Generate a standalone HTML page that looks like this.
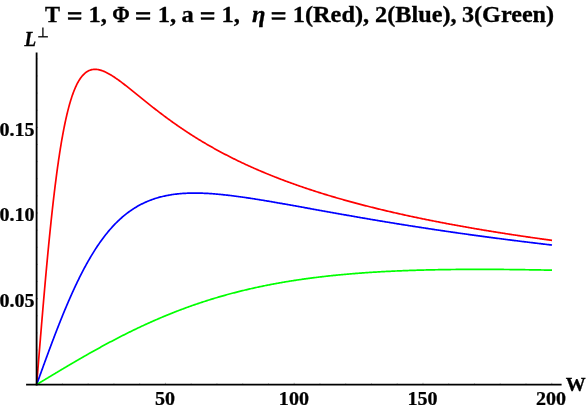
<!DOCTYPE html>
<html><head><meta charset="utf-8">
<style>
html,body{margin:0;padding:0;background:#fff;}
body{width:586px;height:409px;overflow:hidden;position:relative;font-family:"Liberation Serif",serif;}
svg{position:absolute;left:0;top:0;display:block;will-change:transform;}
text{font-family:"Liberation Serif",serif;font-weight:bold;fill:#000;}
</style></head><body>
<svg width="586" height="409" viewBox="0 0 586 409">
<rect width="586" height="409" fill="#fff"/>
<g fill="none" stroke-width="1.7" stroke-linejoin="round" stroke-linecap="butt">
<path stroke="#ff0000" d="M36.65,384.55 L36.91,381.37 L37.17,378.19 L37.42,375.02 L37.68,371.84 L37.94,368.67 L38.20,365.50 L38.45,362.33 L38.71,359.17 L38.97,356.01 L39.23,352.86 L39.48,349.71 L39.74,346.57 L40.00,343.44 L40.26,340.31 L40.51,337.19 L40.77,334.08 L41.03,330.98 L41.29,327.88 L41.54,324.80 L41.80,321.72 L42.06,318.66 L42.32,315.61 L42.57,312.57 L42.83,309.54 L43.09,306.52 L43.35,303.52 L43.60,300.53 L43.86,297.56 L44.12,294.60 L44.38,291.65 L44.63,288.72 L44.89,285.81 L45.15,282.91 L45.41,280.02 L45.66,277.16 L45.92,274.31 L46.18,271.48 L46.44,268.67 L46.69,265.87 L46.95,263.09 L47.21,260.34 L47.47,257.60 L47.72,254.88 L47.98,252.18 L48.24,249.50 L48.50,246.84 L48.75,244.20 L49.01,241.58 L49.27,238.98 L49.53,236.40 L49.79,233.85 L50.04,231.31 L50.30,228.80 L50.56,226.31 L50.82,223.84 L51.07,221.40 L51.33,218.97 L51.59,216.57 L51.85,214.19 L52.10,211.84 L52.36,209.50 L52.62,207.19 L52.88,204.91 L53.13,202.64 L53.39,200.40 L53.65,198.18 L53.91,195.99 L54.16,193.82 L54.42,191.67 L54.68,189.55 L54.94,187.45 L55.19,185.37 L55.45,183.31 L55.71,181.28 L55.97,179.28 L56.22,177.29 L56.48,175.33 L56.74,173.40 L57.00,171.48 L57.25,169.59 L57.51,167.72 L57.77,165.88 L58.03,164.06 L58.28,162.26 L58.54,160.49 L58.80,158.73 L59.06,157.01 L59.31,155.30 L59.57,153.61 L59.83,151.95 L60.09,150.31 L60.34,148.70 L60.60,147.10 L60.86,145.53 L61.12,143.98 L61.37,142.45 L61.63,140.94 L61.89,139.45 L62.15,137.99 L62.41,136.54 L62.66,135.12 L62.92,133.72 L63.18,132.34 L63.44,130.98 L63.69,129.64 L63.95,128.32 L64.21,127.02 L64.47,125.74 L64.72,124.48 L64.98,123.24 L65.24,122.02 L65.50,120.82 L65.75,119.64 L66.01,118.48 L66.27,117.33 L66.53,116.21 L66.78,115.10 L67.04,114.01 L67.30,112.94 L67.56,111.89 L67.81,110.85 L68.07,109.84 L68.33,108.84 L68.59,107.86 L68.84,106.89 L69.10,105.94 L69.36,105.01 L69.62,104.09 L69.87,103.20 L70.13,102.31 L70.39,101.45 L70.65,100.60 L70.90,99.76 L71.16,98.94 L71.42,98.14 L71.68,97.35 L71.93,96.57 L72.19,95.81 L72.45,95.07 L72.71,94.34 L72.96,93.62 L73.22,92.92 L73.48,92.23 L73.74,91.55 L73.99,90.89 L74.25,90.25 L74.51,89.61 L74.77,88.99 L75.02,88.38 L75.28,87.79 L75.54,87.20 L75.80,86.63 L76.06,86.07 L76.31,85.53 L76.57,84.99 L76.83,84.47 L77.09,83.96 L77.34,83.46 L77.60,82.97 L77.86,82.49 L78.12,82.03 L78.37,81.57 L78.63,81.13 L78.89,80.69 L79.15,80.27 L79.40,79.86 L79.66,79.45 L79.92,79.06 L80.18,78.68 L80.43,78.30 L80.69,77.94 L80.95,77.59 L81.21,77.24 L81.46,76.91 L81.72,76.58 L81.98,76.26 L82.24,75.95 L82.49,75.65 L82.75,75.36 L83.01,75.08 L83.27,74.80 L83.52,74.54 L83.78,74.28 L84.04,74.03 L84.30,73.79 L84.55,73.55 L84.81,73.32 L85.07,73.10 L85.33,72.89 L85.58,72.69 L85.84,72.49 L86.10,72.30 L86.36,72.11 L86.61,71.94 L86.87,71.77 L87.13,71.60 L87.39,71.45 L87.64,71.30 L87.90,71.15 L88.16,71.02 L89.09,70.57 L90.02,70.20 L90.95,69.90 L91.88,69.67 L92.81,69.51 L93.73,69.40 L94.66,69.35 L95.59,69.36 L96.52,69.42 L97.45,69.52 L98.38,69.67 L99.31,69.87 L100.24,70.10 L101.17,70.37 L102.10,70.68 L103.02,71.02 L103.95,71.39 L104.88,71.79 L105.81,72.22 L106.74,72.68 L107.67,73.16 L108.60,73.66 L109.53,74.18 L110.46,74.72 L111.39,75.28 L112.31,75.86 L113.24,76.46 L114.17,77.07 L115.10,77.69 L116.03,78.33 L116.96,78.98 L117.89,79.64 L118.82,80.31 L119.75,80.99 L120.68,81.68 L121.61,82.37 L122.53,83.07 L123.46,83.79 L124.39,84.50 L125.32,85.22 L126.25,85.95 L127.18,86.68 L128.11,87.42 L129.04,88.15 L129.97,88.90 L130.90,89.64 L131.82,90.39 L132.75,91.14 L133.68,91.89 L134.61,92.64 L135.54,93.39 L136.47,94.14 L137.40,94.89 L138.33,95.65 L139.26,96.40 L140.19,97.15 L141.12,97.91 L142.04,98.66 L142.97,99.41 L143.90,100.16 L144.83,100.90 L145.76,101.65 L146.69,102.39 L147.62,103.14 L148.55,103.88 L149.48,104.62 L150.41,105.35 L151.33,106.09 L152.26,106.82 L153.19,107.55 L154.12,108.28 L155.05,109.00 L155.98,109.72 L156.91,110.44 L157.84,111.16 L158.77,111.87 L159.70,112.58 L160.62,113.29 L161.55,113.99 L162.48,114.69 L163.41,115.39 L164.34,116.08 L165.27,116.78 L166.20,117.46 L167.13,118.15 L168.06,118.83 L168.99,119.51 L169.92,120.18 L170.84,120.86 L171.77,121.52 L172.70,122.19 L173.63,122.85 L174.56,123.51 L175.49,124.16 L176.42,124.81 L177.35,125.46 L178.28,126.10 L179.21,126.75 L180.13,127.38 L181.06,128.02 L181.99,128.65 L182.92,129.27 L183.85,129.90 L184.78,130.52 L185.71,131.13 L186.64,131.75 L187.57,132.36 L188.50,132.96 L189.43,133.57 L190.35,134.17 L191.28,134.76 L192.21,135.36 L193.14,135.95 L194.07,136.53 L195.00,137.12 L195.93,137.70 L196.86,138.27 L197.79,138.85 L198.72,139.42 L199.64,139.99 L200.57,140.55 L201.50,141.11 L202.43,141.67 L203.36,142.22 L204.29,142.77 L205.22,143.32 L206.15,143.87 L207.08,144.41 L208.01,144.95 L208.93,145.48 L209.86,146.02 L210.79,146.55 L211.72,147.07 L212.65,147.60 L213.58,148.12 L214.51,148.64 L215.44,149.15 L216.37,149.66 L217.30,150.17 L218.23,150.68 L219.15,151.18 L220.08,151.68 L221.01,152.18 L221.94,152.68 L222.87,153.17 L223.80,153.66 L224.73,154.15 L225.66,154.63 L226.59,155.11 L227.52,155.59 L228.44,156.07 L229.37,156.54 L230.30,157.01 L231.23,157.48 L232.16,157.95 L233.09,158.41 L234.02,158.87 L234.95,159.33 L235.88,159.79 L236.81,160.24 L237.74,160.69 L238.66,161.14 L239.59,161.59 L240.52,162.03 L241.45,162.47 L242.38,162.91 L243.31,163.35 L244.24,163.78 L245.17,164.22 L246.10,164.65 L247.03,165.07 L247.95,165.50 L248.88,165.92 L249.81,166.34 L250.74,166.76 L251.67,167.18 L252.60,167.59 L253.53,168.00 L254.46,168.41 L255.39,168.82 L256.32,169.23 L257.24,169.63 L258.17,170.03 L259.10,170.43 L260.03,170.83 L260.96,171.22 L261.89,171.62 L262.82,172.01 L263.75,172.40 L264.68,172.79 L265.61,173.17 L266.54,173.56 L267.46,173.94 L268.39,174.32 L269.32,174.69 L270.25,175.07 L271.18,175.44 L272.11,175.82 L273.04,176.19 L273.97,176.56 L274.90,176.92 L275.83,177.29 L276.75,177.65 L277.68,178.01 L278.61,178.37 L279.54,178.73 L280.47,179.08 L281.40,179.44 L282.33,179.79 L283.26,180.14 L284.19,180.49 L285.12,180.84 L286.05,181.18 L286.97,181.53 L287.90,181.87 L288.83,182.21 L289.76,182.55 L290.69,182.89 L291.62,183.23 L292.55,183.56 L293.48,183.89 L294.41,184.22 L295.34,184.55 L296.26,184.88 L297.19,185.21 L298.12,185.53 L299.05,185.86 L299.98,186.18 L300.91,186.50 L301.84,186.82 L302.77,187.14 L303.70,187.45 L304.63,187.77 L305.55,188.08 L306.48,188.39 L307.41,188.71 L308.34,189.01 L309.27,189.32 L310.20,189.63 L311.13,189.93 L312.06,190.24 L312.99,190.54 L313.92,190.84 L314.85,191.14 L315.77,191.44 L316.70,191.74 L317.63,192.03 L318.56,192.33 L319.49,192.62 L320.42,192.91 L321.35,193.20 L322.28,193.49 L323.21,193.78 L324.14,194.07 L325.06,194.35 L325.99,194.64 L326.92,194.92 L327.85,195.20 L328.78,195.48 L329.71,195.76 L330.64,196.04 L331.57,196.32 L332.50,196.59 L333.43,196.87 L334.36,197.14 L335.28,197.41 L336.21,197.69 L337.14,197.96 L338.07,198.22 L339.00,198.49 L339.93,198.76 L340.86,199.03 L341.79,199.29 L342.72,199.55 L343.65,199.82 L344.57,200.08 L345.50,200.34 L346.43,200.60 L347.36,200.86 L348.29,201.11 L349.22,201.37 L350.15,201.62 L351.08,201.88 L352.01,202.13 L352.94,202.38 L353.86,202.63 L354.79,202.88 L355.72,203.13 L356.65,203.38 L357.58,203.63 L358.51,203.87 L359.44,204.12 L360.37,204.36 L361.30,204.61 L362.23,204.85 L363.16,205.09 L364.08,205.33 L365.01,205.57 L365.94,205.81 L366.87,206.05 L367.80,206.28 L368.73,206.52 L369.66,206.75 L370.59,206.99 L371.52,207.22 L372.45,207.45 L373.37,207.68 L374.30,207.91 L375.23,208.14 L376.16,208.37 L377.09,208.60 L378.02,208.83 L378.95,209.05 L379.88,209.28 L380.81,209.50 L381.74,209.72 L382.67,209.95 L383.59,210.17 L384.52,210.39 L385.45,210.61 L386.38,210.83 L387.31,211.05 L388.24,211.27 L389.17,211.48 L390.10,211.70 L391.03,211.91 L391.96,212.13 L392.88,212.34 L393.81,212.56 L394.74,212.77 L395.67,212.98 L396.60,213.19 L397.53,213.40 L398.46,213.61 L399.39,213.82 L400.32,214.03 L401.25,214.23 L402.17,214.44 L403.10,214.65 L404.03,214.85 L404.96,215.05 L405.89,215.26 L406.82,215.46 L407.75,215.66 L408.68,215.86 L409.61,216.06 L410.54,216.26 L411.47,216.46 L412.39,216.66 L413.32,216.86 L414.25,217.06 L415.18,217.25 L416.11,217.45 L417.04,217.64 L417.97,217.84 L418.90,218.03 L419.83,218.22 L420.76,218.42 L421.68,218.61 L422.61,218.80 L423.54,218.99 L424.47,219.18 L425.40,219.37 L426.33,219.56 L427.26,219.75 L428.19,219.93 L429.12,220.12 L430.05,220.30 L430.98,220.49 L431.90,220.68 L432.83,220.86 L433.76,221.04 L434.69,221.23 L435.62,221.41 L436.55,221.59 L437.48,221.77 L438.41,221.95 L439.34,222.13 L440.27,222.31 L441.19,222.49 L442.12,222.67 L443.05,222.85 L443.98,223.02 L444.91,223.20 L445.84,223.37 L446.77,223.55 L447.70,223.72 L448.63,223.90 L449.56,224.07 L450.48,224.25 L451.41,224.42 L452.34,224.59 L453.27,224.76 L454.20,224.93 L455.13,225.10 L456.06,225.27 L456.99,225.44 L457.92,225.61 L458.85,225.78 L459.78,225.95 L460.70,226.11 L461.63,226.28 L462.56,226.45 L463.49,226.61 L464.42,226.78 L465.35,226.94 L466.28,227.11 L467.21,227.27 L468.14,227.43 L469.07,227.60 L469.99,227.76 L470.92,227.92 L471.85,228.08 L472.78,228.24 L473.71,228.40 L474.64,228.56 L475.57,228.72 L476.50,228.88 L477.43,229.04 L478.36,229.20 L479.29,229.35 L480.21,229.51 L481.14,229.67 L482.07,229.82 L483.00,229.98 L483.93,230.13 L484.86,230.29 L485.79,230.44 L486.72,230.59 L487.65,230.75 L488.58,230.90 L489.50,231.05 L490.43,231.20 L491.36,231.35 L492.29,231.51 L493.22,231.66 L494.15,231.81 L495.08,231.96 L496.01,232.10 L496.94,232.25 L497.87,232.40 L498.79,232.55 L499.72,232.70 L500.65,232.84 L501.58,232.99 L502.51,233.14 L503.44,233.28 L504.37,233.43 L505.30,233.57 L506.23,233.72 L507.16,233.86 L508.09,234.01 L509.01,234.15 L509.94,234.29 L510.87,234.43 L511.80,234.58 L512.73,234.72 L513.66,234.86 L514.59,235.00 L515.52,235.14 L516.45,235.28 L517.38,235.42 L518.30,235.56 L519.23,235.70 L520.16,235.84 L521.09,235.97 L522.02,236.11 L522.95,236.25 L523.88,236.39 L524.81,236.52 L525.74,236.66 L526.67,236.80 L527.60,236.93 L528.52,237.07 L529.45,237.20 L530.38,237.34 L531.31,237.47 L532.24,237.60 L533.17,237.74 L534.10,237.87 L535.03,238.00 L535.96,238.13 L536.89,238.27 L537.81,238.40 L538.74,238.53 L539.67,238.66 L540.60,238.79 L541.53,238.92 L542.46,239.05 L543.39,239.18 L544.32,239.31 L545.25,239.44 L546.18,239.57 L547.10,239.69 L548.03,239.82 L548.96,239.95 L549.89,240.08 L550.82,240.20 L551.75,240.33 L552.00,240.36"/>
<path stroke="#0000ff" d="M36.65,384.55 L36.91,383.84 L37.17,383.12 L37.42,382.41 L37.68,381.70 L37.94,380.98 L38.20,380.27 L38.45,379.56 L38.71,378.84 L38.97,378.13 L39.23,377.42 L39.48,376.70 L39.74,375.99 L40.00,375.28 L40.26,374.57 L40.51,373.86 L40.77,373.14 L41.03,372.43 L41.29,371.72 L41.54,371.01 L41.80,370.30 L42.06,369.59 L42.32,368.88 L42.57,368.17 L42.83,367.46 L43.09,366.76 L43.35,366.05 L43.60,365.34 L43.86,364.63 L44.12,363.93 L44.38,363.22 L44.63,362.51 L44.89,361.81 L45.15,361.11 L45.41,360.40 L45.66,359.70 L45.92,358.99 L46.18,358.29 L46.44,357.59 L46.69,356.89 L46.95,356.19 L47.21,355.49 L47.47,354.79 L47.72,354.09 L47.98,353.40 L48.24,352.70 L48.50,352.00 L48.75,351.31 L49.01,350.61 L49.27,349.92 L49.53,349.23 L49.79,348.53 L50.04,347.84 L50.30,347.15 L50.56,346.46 L50.82,345.77 L51.07,345.09 L51.33,344.40 L51.59,343.71 L51.85,343.03 L52.10,342.35 L52.36,341.66 L52.62,340.98 L52.88,340.30 L53.13,339.62 L53.39,338.94 L53.65,338.26 L53.91,337.59 L54.16,336.91 L54.42,336.24 L54.68,335.56 L54.94,334.89 L55.19,334.22 L55.45,333.55 L55.71,332.88 L55.97,332.21 L56.22,331.55 L56.48,330.88 L56.74,330.22 L57.00,329.55 L57.25,328.89 L57.51,328.23 L57.77,327.57 L58.03,326.91 L58.28,326.26 L58.54,325.60 L58.80,324.95 L59.06,324.30 L59.31,323.64 L59.57,322.99 L59.83,322.35 L60.09,321.70 L60.34,321.05 L60.60,320.41 L60.86,319.76 L61.12,319.12 L61.37,318.48 L61.63,317.84 L61.89,317.21 L62.15,316.57 L62.41,315.94 L62.66,315.30 L62.92,314.67 L63.18,314.04 L63.44,313.41 L63.69,312.79 L63.95,312.16 L64.21,311.54 L64.47,310.91 L64.72,310.29 L64.98,309.67 L65.24,309.06 L65.50,308.44 L65.75,307.82 L66.01,307.21 L66.27,306.60 L66.53,305.99 L66.78,305.38 L67.04,304.78 L67.30,304.17 L67.56,303.57 L67.81,302.97 L68.07,302.37 L68.33,301.77 L68.59,301.17 L68.84,300.58 L69.10,299.98 L69.36,299.39 L69.62,298.80 L69.87,298.22 L70.13,297.63 L70.39,297.05 L70.65,296.46 L70.90,295.88 L71.16,295.30 L71.42,294.73 L71.68,294.15 L71.93,293.58 L72.19,293.00 L72.45,292.43 L72.71,291.86 L72.96,291.30 L73.22,290.73 L73.48,290.17 L73.74,289.61 L73.99,289.05 L74.25,288.49 L74.51,287.94 L74.77,287.38 L75.02,286.83 L75.28,286.28 L75.54,285.73 L75.80,285.18 L76.06,284.64 L76.31,284.10 L76.57,283.56 L76.83,283.02 L77.09,282.48 L77.34,281.94 L77.60,281.41 L77.86,280.88 L78.12,280.35 L78.37,279.82 L78.63,279.30 L78.89,278.77 L79.15,278.25 L79.40,277.73 L79.66,277.21 L79.92,276.69 L80.18,276.18 L80.43,275.67 L80.69,275.16 L80.95,274.65 L81.21,274.14 L81.46,273.64 L81.72,273.13 L81.98,272.63 L82.24,272.13 L82.49,271.64 L82.75,271.14 L83.01,270.65 L83.27,270.16 L83.52,269.67 L83.78,269.18 L84.04,268.69 L84.30,268.21 L84.55,267.73 L84.81,267.25 L85.07,266.77 L85.33,266.29 L85.58,265.82 L85.84,265.35 L86.10,264.88 L86.36,264.41 L86.61,263.94 L86.87,263.48 L87.13,263.02 L87.39,262.56 L87.64,262.10 L87.90,261.64 L88.16,261.19 L89.09,259.56 L90.02,257.97 L90.95,256.39 L91.88,254.85 L92.81,253.32 L93.73,251.83 L94.66,250.35 L95.59,248.90 L96.52,247.48 L97.45,246.08 L98.38,244.71 L99.31,243.36 L100.24,242.03 L101.17,240.73 L102.10,239.45 L103.02,238.20 L103.95,236.97 L104.88,235.76 L105.81,234.58 L106.74,233.42 L107.67,232.28 L108.60,231.16 L109.53,230.07 L110.46,228.99 L111.39,227.94 L112.31,226.91 L113.24,225.91 L114.17,224.92 L115.10,223.95 L116.03,223.01 L116.96,222.08 L117.89,221.18 L118.82,220.29 L119.75,219.43 L120.68,218.58 L121.61,217.75 L122.53,216.95 L123.46,216.16 L124.39,215.38 L125.32,214.63 L126.25,213.90 L127.18,213.18 L128.11,212.48 L129.04,211.79 L129.97,211.13 L130.90,210.47 L131.82,209.84 L132.75,209.22 L133.68,208.62 L134.61,208.03 L135.54,207.46 L136.47,206.90 L137.40,206.36 L138.33,205.83 L139.26,205.32 L140.19,204.82 L141.12,204.34 L142.04,203.86 L142.97,203.41 L143.90,202.96 L144.83,202.53 L145.76,202.11 L146.69,201.70 L147.62,201.31 L148.55,200.92 L149.48,200.55 L150.41,200.19 L151.33,199.84 L152.26,199.51 L153.19,199.18 L154.12,198.87 L155.05,198.56 L155.98,198.27 L156.91,197.98 L157.84,197.71 L158.77,197.44 L159.70,197.19 L160.62,196.94 L161.55,196.71 L162.48,196.48 L163.41,196.26 L164.34,196.05 L165.27,195.85 L166.20,195.66 L167.13,195.47 L168.06,195.30 L168.99,195.13 L169.92,194.97 L170.84,194.82 L171.77,194.67 L172.70,194.53 L173.63,194.40 L174.56,194.28 L175.49,194.16 L176.42,194.05 L177.35,193.95 L178.28,193.85 L179.21,193.76 L180.13,193.68 L181.06,193.60 L181.99,193.52 L182.92,193.46 L183.85,193.40 L184.78,193.34 L185.71,193.29 L186.64,193.25 L187.57,193.21 L188.50,193.17 L189.43,193.14 L190.35,193.12 L191.28,193.10 L192.21,193.09 L193.14,193.08 L194.07,193.07 L195.00,193.07 L195.93,193.07 L196.86,193.08 L197.79,193.09 L198.72,193.11 L199.64,193.13 L200.57,193.15 L201.50,193.18 L202.43,193.21 L203.36,193.24 L204.29,193.28 L205.22,193.32 L206.15,193.37 L207.08,193.42 L208.01,193.47 L208.93,193.52 L209.86,193.58 L210.79,193.64 L211.72,193.71 L212.65,193.77 L213.58,193.84 L214.51,193.92 L215.44,193.99 L216.37,194.07 L217.30,194.15 L218.23,194.23 L219.15,194.32 L220.08,194.41 L221.01,194.50 L221.94,194.59 L222.87,194.69 L223.80,194.78 L224.73,194.88 L225.66,194.98 L226.59,195.09 L227.52,195.19 L228.44,195.30 L229.37,195.41 L230.30,195.52 L231.23,195.63 L232.16,195.75 L233.09,195.86 L234.02,195.98 L234.95,196.10 L235.88,196.22 L236.81,196.35 L237.74,196.47 L238.66,196.60 L239.59,196.72 L240.52,196.85 L241.45,196.98 L242.38,197.11 L243.31,197.25 L244.24,197.38 L245.17,197.52 L246.10,197.65 L247.03,197.79 L247.95,197.93 L248.88,198.07 L249.81,198.21 L250.74,198.35 L251.67,198.49 L252.60,198.64 L253.53,198.78 L254.46,198.93 L255.39,199.08 L256.32,199.22 L257.24,199.37 L258.17,199.52 L259.10,199.67 L260.03,199.82 L260.96,199.97 L261.89,200.13 L262.82,200.28 L263.75,200.43 L264.68,200.59 L265.61,200.74 L266.54,200.90 L267.46,201.06 L268.39,201.21 L269.32,201.37 L270.25,201.53 L271.18,201.69 L272.11,201.85 L273.04,202.01 L273.97,202.17 L274.90,202.33 L275.83,202.49 L276.75,202.65 L277.68,202.81 L278.61,202.97 L279.54,203.14 L280.47,203.30 L281.40,203.46 L282.33,203.63 L283.26,203.79 L284.19,203.95 L285.12,204.12 L286.05,204.28 L286.97,204.45 L287.90,204.61 L288.83,204.78 L289.76,204.95 L290.69,205.11 L291.62,205.28 L292.55,205.44 L293.48,205.61 L294.41,205.78 L295.34,205.94 L296.26,206.11 L297.19,206.28 L298.12,206.45 L299.05,206.61 L299.98,206.78 L300.91,206.95 L301.84,207.12 L302.77,207.28 L303.70,207.45 L304.63,207.62 L305.55,207.79 L306.48,207.96 L307.41,208.12 L308.34,208.29 L309.27,208.46 L310.20,208.63 L311.13,208.80 L312.06,208.97 L312.99,209.13 L313.92,209.30 L314.85,209.47 L315.77,209.64 L316.70,209.81 L317.63,209.97 L318.56,210.14 L319.49,210.31 L320.42,210.48 L321.35,210.64 L322.28,210.81 L323.21,210.98 L324.14,211.15 L325.06,211.31 L325.99,211.48 L326.92,211.65 L327.85,211.82 L328.78,211.98 L329.71,212.15 L330.64,212.32 L331.57,212.48 L332.50,212.65 L333.43,212.82 L334.36,212.98 L335.28,213.15 L336.21,213.31 L337.14,213.48 L338.07,213.65 L339.00,213.81 L339.93,213.98 L340.86,214.14 L341.79,214.31 L342.72,214.47 L343.65,214.64 L344.57,214.80 L345.50,214.96 L346.43,215.13 L347.36,215.29 L348.29,215.46 L349.22,215.62 L350.15,215.78 L351.08,215.94 L352.01,216.11 L352.94,216.27 L353.86,216.43 L354.79,216.59 L355.72,216.76 L356.65,216.92 L357.58,217.08 L358.51,217.24 L359.44,217.40 L360.37,217.56 L361.30,217.72 L362.23,217.88 L363.16,218.04 L364.08,218.20 L365.01,218.36 L365.94,218.52 L366.87,218.68 L367.80,218.84 L368.73,219.00 L369.66,219.16 L370.59,219.32 L371.52,219.47 L372.45,219.63 L373.37,219.79 L374.30,219.95 L375.23,220.10 L376.16,220.26 L377.09,220.42 L378.02,220.57 L378.95,220.73 L379.88,220.88 L380.81,221.04 L381.74,221.19 L382.67,221.35 L383.59,221.50 L384.52,221.66 L385.45,221.81 L386.38,221.97 L387.31,222.12 L388.24,222.27 L389.17,222.43 L390.10,222.58 L391.03,222.73 L391.96,222.88 L392.88,223.03 L393.81,223.19 L394.74,223.34 L395.67,223.49 L396.60,223.64 L397.53,223.79 L398.46,223.94 L399.39,224.09 L400.32,224.24 L401.25,224.39 L402.17,224.54 L403.10,224.69 L404.03,224.84 L404.96,224.98 L405.89,225.13 L406.82,225.28 L407.75,225.43 L408.68,225.57 L409.61,225.72 L410.54,225.87 L411.47,226.01 L412.39,226.16 L413.32,226.31 L414.25,226.45 L415.18,226.60 L416.11,226.74 L417.04,226.89 L417.97,227.03 L418.90,227.17 L419.83,227.32 L420.76,227.46 L421.68,227.60 L422.61,227.75 L423.54,227.89 L424.47,228.03 L425.40,228.17 L426.33,228.32 L427.26,228.46 L428.19,228.60 L429.12,228.74 L430.05,228.88 L430.98,229.02 L431.90,229.16 L432.83,229.30 L433.76,229.44 L434.69,229.58 L435.62,229.72 L436.55,229.86 L437.48,230.00 L438.41,230.13 L439.34,230.27 L440.27,230.41 L441.19,230.55 L442.12,230.68 L443.05,230.82 L443.98,230.96 L444.91,231.09 L445.84,231.23 L446.77,231.36 L447.70,231.50 L448.63,231.63 L449.56,231.77 L450.48,231.90 L451.41,232.04 L452.34,232.17 L453.27,232.31 L454.20,232.44 L455.13,232.57 L456.06,232.71 L456.99,232.84 L457.92,232.97 L458.85,233.10 L459.78,233.23 L460.70,233.37 L461.63,233.50 L462.56,233.63 L463.49,233.76 L464.42,233.89 L465.35,234.02 L466.28,234.15 L467.21,234.28 L468.14,234.41 L469.07,234.54 L469.99,234.67 L470.92,234.79 L471.85,234.92 L472.78,235.05 L473.71,235.18 L474.64,235.31 L475.57,235.43 L476.50,235.56 L477.43,235.69 L478.36,235.81 L479.29,235.94 L480.21,236.06 L481.14,236.19 L482.07,236.32 L483.00,236.44 L483.93,236.57 L484.86,236.69 L485.79,236.81 L486.72,236.94 L487.65,237.06 L488.58,237.19 L489.50,237.31 L490.43,237.43 L491.36,237.55 L492.29,237.68 L493.22,237.80 L494.15,237.92 L495.08,238.04 L496.01,238.16 L496.94,238.29 L497.87,238.41 L498.79,238.53 L499.72,238.65 L500.65,238.77 L501.58,238.89 L502.51,239.01 L503.44,239.13 L504.37,239.25 L505.30,239.37 L506.23,239.48 L507.16,239.60 L508.09,239.72 L509.01,239.84 L509.94,239.96 L510.87,240.07 L511.80,240.19 L512.73,240.31 L513.66,240.43 L514.59,240.54 L515.52,240.66 L516.45,240.77 L517.38,240.89 L518.30,241.01 L519.23,241.12 L520.16,241.24 L521.09,241.35 L522.02,241.47 L522.95,241.58 L523.88,241.69 L524.81,241.81 L525.74,241.92 L526.67,242.03 L527.60,242.15 L528.52,242.26 L529.45,242.37 L530.38,242.49 L531.31,242.60 L532.24,242.71 L533.17,242.82 L534.10,242.93 L535.03,243.04 L535.96,243.16 L536.89,243.27 L537.81,243.38 L538.74,243.49 L539.67,243.60 L540.60,243.71 L541.53,243.82 L542.46,243.93 L543.39,244.04 L544.32,244.15 L545.25,244.25 L546.18,244.36 L547.10,244.47 L548.03,244.58 L548.96,244.69 L549.89,244.80 L550.82,244.90 L551.75,245.01 L552.00,245.04"/>
<path stroke="#00ff00" d="M36.65,384.55 L36.91,384.39 L37.17,384.24 L37.42,384.08 L37.68,383.93 L37.94,383.77 L38.20,383.62 L38.45,383.46 L38.71,383.31 L38.97,383.15 L39.23,383.00 L39.48,382.84 L39.74,382.69 L40.00,382.53 L40.26,382.37 L40.51,382.22 L40.77,382.06 L41.03,381.91 L41.29,381.75 L41.54,381.60 L41.80,381.44 L42.06,381.29 L42.32,381.13 L42.57,380.98 L42.83,380.82 L43.09,380.67 L43.35,380.51 L43.60,380.36 L43.86,380.20 L44.12,380.05 L44.38,379.89 L44.63,379.73 L44.89,379.58 L45.15,379.42 L45.41,379.27 L45.66,379.11 L45.92,378.96 L46.18,378.80 L46.44,378.65 L46.69,378.49 L46.95,378.34 L47.21,378.18 L47.47,378.03 L47.72,377.87 L47.98,377.72 L48.24,377.56 L48.50,377.41 L48.75,377.25 L49.01,377.10 L49.27,376.94 L49.53,376.79 L49.79,376.64 L50.04,376.48 L50.30,376.33 L50.56,376.17 L50.82,376.02 L51.07,375.86 L51.33,375.71 L51.59,375.55 L51.85,375.40 L52.10,375.24 L52.36,375.09 L52.62,374.93 L52.88,374.78 L53.13,374.63 L53.39,374.47 L53.65,374.32 L53.91,374.16 L54.16,374.01 L54.42,373.85 L54.68,373.70 L54.94,373.55 L55.19,373.39 L55.45,373.24 L55.71,373.08 L55.97,372.93 L56.22,372.78 L56.48,372.62 L56.74,372.47 L57.00,372.31 L57.25,372.16 L57.51,372.01 L57.77,371.85 L58.03,371.70 L58.28,371.54 L58.54,371.39 L58.80,371.24 L59.06,371.08 L59.31,370.93 L59.57,370.78 L59.83,370.62 L60.09,370.47 L60.34,370.32 L60.60,370.16 L60.86,370.01 L61.12,369.86 L61.37,369.70 L61.63,369.55 L61.89,369.40 L62.15,369.24 L62.41,369.09 L62.66,368.94 L62.92,368.79 L63.18,368.63 L63.44,368.48 L63.69,368.33 L63.95,368.17 L64.21,368.02 L64.47,367.87 L64.72,367.72 L64.98,367.56 L65.24,367.41 L65.50,367.26 L65.75,367.11 L66.01,366.96 L66.27,366.80 L66.53,366.65 L66.78,366.50 L67.04,366.35 L67.30,366.20 L67.56,366.04 L67.81,365.89 L68.07,365.74 L68.33,365.59 L68.59,365.44 L68.84,365.28 L69.10,365.13 L69.36,364.98 L69.62,364.83 L69.87,364.68 L70.13,364.53 L70.39,364.38 L70.65,364.22 L70.90,364.07 L71.16,363.92 L71.42,363.77 L71.68,363.62 L71.93,363.47 L72.19,363.32 L72.45,363.17 L72.71,363.02 L72.96,362.87 L73.22,362.72 L73.48,362.57 L73.74,362.42 L73.99,362.27 L74.25,362.12 L74.51,361.97 L74.77,361.81 L75.02,361.66 L75.28,361.51 L75.54,361.36 L75.80,361.22 L76.06,361.07 L76.31,360.92 L76.57,360.77 L76.83,360.62 L77.09,360.47 L77.34,360.32 L77.60,360.17 L77.86,360.02 L78.12,359.87 L78.37,359.72 L78.63,359.57 L78.89,359.42 L79.15,359.27 L79.40,359.13 L79.66,358.98 L79.92,358.83 L80.18,358.68 L80.43,358.53 L80.69,358.38 L80.95,358.23 L81.21,358.09 L81.46,357.94 L81.72,357.79 L81.98,357.64 L82.24,357.49 L82.49,357.35 L82.75,357.20 L83.01,357.05 L83.27,356.90 L83.52,356.76 L83.78,356.61 L84.04,356.46 L84.30,356.31 L84.55,356.17 L84.81,356.02 L85.07,355.87 L85.33,355.73 L85.58,355.58 L85.84,355.43 L86.10,355.29 L86.36,355.14 L86.61,354.99 L86.87,354.85 L87.13,354.70 L87.39,354.55 L87.64,354.41 L87.90,354.26 L88.16,354.12 L89.09,353.59 L90.02,353.07 L90.95,352.54 L91.88,352.02 L92.81,351.50 L93.73,350.98 L94.66,350.46 L95.59,349.95 L96.52,349.43 L97.45,348.92 L98.38,348.40 L99.31,347.89 L100.24,347.38 L101.17,346.87 L102.10,346.37 L103.02,345.86 L103.95,345.36 L104.88,344.85 L105.81,344.35 L106.74,343.85 L107.67,343.36 L108.60,342.86 L109.53,342.36 L110.46,341.87 L111.39,341.38 L112.31,340.89 L113.24,340.40 L114.17,339.91 L115.10,339.43 L116.03,338.94 L116.96,338.46 L117.89,337.98 L118.82,337.50 L119.75,337.02 L120.68,336.55 L121.61,336.07 L122.53,335.60 L123.46,335.13 L124.39,334.66 L125.32,334.19 L126.25,333.73 L127.18,333.27 L128.11,332.80 L129.04,332.34 L129.97,331.89 L130.90,331.43 L131.82,330.98 L132.75,330.52 L133.68,330.07 L134.61,329.62 L135.54,329.18 L136.47,328.73 L137.40,328.29 L138.33,327.85 L139.26,327.41 L140.19,326.97 L141.12,326.53 L142.04,326.10 L142.97,325.66 L143.90,325.23 L144.83,324.81 L145.76,324.38 L146.69,323.96 L147.62,323.53 L148.55,323.11 L149.48,322.69 L150.41,322.28 L151.33,321.86 L152.26,321.45 L153.19,321.04 L154.12,320.63 L155.05,320.22 L155.98,319.82 L156.91,319.41 L157.84,319.01 L158.77,318.61 L159.70,318.22 L160.62,317.82 L161.55,317.43 L162.48,317.04 L163.41,316.65 L164.34,316.26 L165.27,315.87 L166.20,315.49 L167.13,315.11 L168.06,314.73 L168.99,314.35 L169.92,313.98 L170.84,313.60 L171.77,313.23 L172.70,312.86 L173.63,312.50 L174.56,312.13 L175.49,311.77 L176.42,311.41 L177.35,311.05 L178.28,310.69 L179.21,310.33 L180.13,309.98 L181.06,309.63 L181.99,309.28 L182.92,308.93 L183.85,308.59 L184.78,308.24 L185.71,307.90 L186.64,307.56 L187.57,307.23 L188.50,306.89 L189.43,306.56 L190.35,306.22 L191.28,305.90 L192.21,305.57 L193.14,305.24 L194.07,304.92 L195.00,304.60 L195.93,304.28 L196.86,303.96 L197.79,303.64 L198.72,303.33 L199.64,303.02 L200.57,302.71 L201.50,302.40 L202.43,302.09 L203.36,301.79 L204.29,301.49 L205.22,301.19 L206.15,300.89 L207.08,300.59 L208.01,300.30 L208.93,300.01 L209.86,299.71 L210.79,299.43 L211.72,299.14 L212.65,298.85 L213.58,298.57 L214.51,298.29 L215.44,298.01 L216.37,297.73 L217.30,297.46 L218.23,297.18 L219.15,296.91 L220.08,296.64 L221.01,296.37 L221.94,296.11 L222.87,295.84 L223.80,295.58 L224.73,295.32 L225.66,295.06 L226.59,294.80 L227.52,294.55 L228.44,294.29 L229.37,294.04 L230.30,293.79 L231.23,293.54 L232.16,293.29 L233.09,293.05 L234.02,292.81 L234.95,292.56 L235.88,292.33 L236.81,292.09 L237.74,291.85 L238.66,291.62 L239.59,291.38 L240.52,291.15 L241.45,290.92 L242.38,290.70 L243.31,290.47 L244.24,290.25 L245.17,290.02 L246.10,289.80 L247.03,289.58 L247.95,289.37 L248.88,289.15 L249.81,288.94 L250.74,288.72 L251.67,288.51 L252.60,288.30 L253.53,288.09 L254.46,287.89 L255.39,287.68 L256.32,287.48 L257.24,287.28 L258.17,287.08 L259.10,286.88 L260.03,286.69 L260.96,286.49 L261.89,286.30 L262.82,286.10 L263.75,285.91 L264.68,285.73 L265.61,285.54 L266.54,285.35 L267.46,285.17 L268.39,284.98 L269.32,284.80 L270.25,284.62 L271.18,284.44 L272.11,284.27 L273.04,284.09 L273.97,283.92 L274.90,283.75 L275.83,283.57 L276.75,283.40 L277.68,283.24 L278.61,283.07 L279.54,282.90 L280.47,282.74 L281.40,282.58 L282.33,282.42 L283.26,282.26 L284.19,282.10 L285.12,281.94 L286.05,281.78 L286.97,281.63 L287.90,281.48 L288.83,281.32 L289.76,281.17 L290.69,281.02 L291.62,280.88 L292.55,280.73 L293.48,280.59 L294.41,280.44 L295.34,280.30 L296.26,280.16 L297.19,280.02 L298.12,279.88 L299.05,279.74 L299.98,279.60 L300.91,279.47 L301.84,279.34 L302.77,279.20 L303.70,279.07 L304.63,278.94 L305.55,278.81 L306.48,278.68 L307.41,278.56 L308.34,278.43 L309.27,278.31 L310.20,278.19 L311.13,278.06 L312.06,277.94 L312.99,277.82 L313.92,277.70 L314.85,277.59 L315.77,277.47 L316.70,277.36 L317.63,277.24 L318.56,277.13 L319.49,277.02 L320.42,276.91 L321.35,276.80 L322.28,276.69 L323.21,276.58 L324.14,276.48 L325.06,276.37 L325.99,276.27 L326.92,276.16 L327.85,276.06 L328.78,275.96 L329.71,275.86 L330.64,275.76 L331.57,275.66 L332.50,275.57 L333.43,275.47 L334.36,275.38 L335.28,275.28 L336.21,275.19 L337.14,275.10 L338.07,275.01 L339.00,274.92 L339.93,274.83 L340.86,274.74 L341.79,274.65 L342.72,274.57 L343.65,274.48 L344.57,274.40 L345.50,274.31 L346.43,274.23 L347.36,274.15 L348.29,274.07 L349.22,273.99 L350.15,273.91 L351.08,273.83 L352.01,273.75 L352.94,273.68 L353.86,273.60 L354.79,273.53 L355.72,273.45 L356.65,273.38 L357.58,273.31 L358.51,273.24 L359.44,273.17 L360.37,273.10 L361.30,273.03 L362.23,272.96 L363.16,272.89 L364.08,272.83 L365.01,272.76 L365.94,272.70 L366.87,272.63 L367.80,272.57 L368.73,272.51 L369.66,272.45 L370.59,272.39 L371.52,272.33 L372.45,272.27 L373.37,272.21 L374.30,272.15 L375.23,272.09 L376.16,272.04 L377.09,271.98 L378.02,271.93 L378.95,271.87 L379.88,271.82 L380.81,271.77 L381.74,271.72 L382.67,271.67 L383.59,271.61 L384.52,271.56 L385.45,271.52 L386.38,271.47 L387.31,271.42 L388.24,271.37 L389.17,271.33 L390.10,271.28 L391.03,271.24 L391.96,271.19 L392.88,271.15 L393.81,271.10 L394.74,271.06 L395.67,271.02 L396.60,270.98 L397.53,270.94 L398.46,270.90 L399.39,270.86 L400.32,270.82 L401.25,270.78 L402.17,270.74 L403.10,270.71 L404.03,270.67 L404.96,270.64 L405.89,270.60 L406.82,270.57 L407.75,270.53 L408.68,270.50 L409.61,270.47 L410.54,270.43 L411.47,270.40 L412.39,270.37 L413.32,270.34 L414.25,270.31 L415.18,270.28 L416.11,270.25 L417.04,270.22 L417.97,270.20 L418.90,270.17 L419.83,270.14 L420.76,270.12 L421.68,270.09 L422.61,270.07 L423.54,270.04 L424.47,270.02 L425.40,269.99 L426.33,269.97 L427.26,269.95 L428.19,269.92 L429.12,269.90 L430.05,269.88 L430.98,269.86 L431.90,269.84 L432.83,269.82 L433.76,269.80 L434.69,269.78 L435.62,269.76 L436.55,269.75 L437.48,269.73 L438.41,269.71 L439.34,269.70 L440.27,269.68 L441.19,269.66 L442.12,269.65 L443.05,269.63 L443.98,269.62 L444.91,269.61 L445.84,269.59 L446.77,269.58 L447.70,269.57 L448.63,269.55 L449.56,269.54 L450.48,269.53 L451.41,269.52 L452.34,269.51 L453.27,269.50 L454.20,269.49 L455.13,269.48 L456.06,269.47 L456.99,269.46 L457.92,269.45 L458.85,269.45 L459.78,269.44 L460.70,269.43 L461.63,269.43 L462.56,269.42 L463.49,269.41 L464.42,269.41 L465.35,269.40 L466.28,269.40 L467.21,269.39 L468.14,269.39 L469.07,269.39 L469.99,269.38 L470.92,269.38 L471.85,269.38 L472.78,269.37 L473.71,269.37 L474.64,269.37 L475.57,269.37 L476.50,269.37 L477.43,269.37 L478.36,269.37 L479.29,269.37 L480.21,269.37 L481.14,269.37 L482.07,269.37 L483.00,269.37 L483.93,269.37 L484.86,269.37 L485.79,269.38 L486.72,269.38 L487.65,269.38 L488.58,269.38 L489.50,269.39 L490.43,269.39 L491.36,269.39 L492.29,269.40 L493.22,269.40 L494.15,269.41 L495.08,269.41 L496.01,269.42 L496.94,269.42 L497.87,269.43 L498.79,269.44 L499.72,269.44 L500.65,269.45 L501.58,269.46 L502.51,269.46 L503.44,269.47 L504.37,269.48 L505.30,269.49 L506.23,269.50 L507.16,269.50 L508.09,269.51 L509.01,269.52 L509.94,269.53 L510.87,269.54 L511.80,269.55 L512.73,269.56 L513.66,269.57 L514.59,269.58 L515.52,269.59 L516.45,269.60 L517.38,269.62 L518.30,269.63 L519.23,269.64 L520.16,269.65 L521.09,269.66 L522.02,269.68 L522.95,269.69 L523.88,269.70 L524.81,269.71 L525.74,269.73 L526.67,269.74 L527.60,269.75 L528.52,269.77 L529.45,269.78 L530.38,269.80 L531.31,269.81 L532.24,269.83 L533.17,269.84 L534.10,269.86 L535.03,269.87 L535.96,269.89 L536.89,269.90 L537.81,269.92 L538.74,269.94 L539.67,269.95 L540.60,269.97 L541.53,269.98 L542.46,270.00 L543.39,270.02 L544.32,270.04 L545.25,270.05 L546.18,270.07 L547.10,270.09 L548.03,270.11 L548.96,270.13 L549.89,270.14 L550.82,270.16 L551.75,270.18 L552.00,270.19"/>
</g>
<g stroke="#000" stroke-width="0.6">
<line x1="62.41" y1="383.50" x2="62.41" y2="383.15"/>
<line x1="88.16" y1="383.50" x2="88.16" y2="383.15"/>
<line x1="113.91" y1="383.50" x2="113.91" y2="383.15"/>
<line x1="139.67" y1="383.50" x2="139.67" y2="383.15"/>
<line x1="165.43" y1="383.50" x2="165.43" y2="382.90"/>
<line x1="191.18" y1="383.50" x2="191.18" y2="383.15"/>
<line x1="216.94" y1="383.50" x2="216.94" y2="383.15"/>
<line x1="242.69" y1="383.50" x2="242.69" y2="383.15"/>
<line x1="268.44" y1="383.50" x2="268.44" y2="383.15"/>
<line x1="294.20" y1="383.50" x2="294.20" y2="382.90"/>
<line x1="319.95" y1="383.50" x2="319.95" y2="383.15"/>
<line x1="345.71" y1="383.50" x2="345.71" y2="383.15"/>
<line x1="371.46" y1="383.50" x2="371.46" y2="383.15"/>
<line x1="397.22" y1="383.50" x2="397.22" y2="383.15"/>
<line x1="422.97" y1="383.50" x2="422.97" y2="382.90"/>
<line x1="448.73" y1="383.50" x2="448.73" y2="383.15"/>
<line x1="474.48" y1="383.50" x2="474.48" y2="383.15"/>
<line x1="500.24" y1="383.50" x2="500.24" y2="383.15"/>
<line x1="526.00" y1="383.50" x2="526.00" y2="383.15"/>
<line x1="551.75" y1="383.50" x2="551.75" y2="382.90"/>
<line x1="37.35" y1="367.17" x2="37.70" y2="367.17"/>
<line x1="37.35" y1="350.04" x2="37.70" y2="350.04"/>
<line x1="37.35" y1="332.91" x2="37.70" y2="332.91"/>
<line x1="37.35" y1="315.78" x2="37.70" y2="315.78"/>
<line x1="37.35" y1="298.65" x2="37.95" y2="298.65"/>
<line x1="37.35" y1="281.52" x2="37.70" y2="281.52"/>
<line x1="37.35" y1="264.39" x2="37.70" y2="264.39"/>
<line x1="37.35" y1="247.26" x2="37.70" y2="247.26"/>
<line x1="37.35" y1="230.13" x2="37.70" y2="230.13"/>
<line x1="37.35" y1="213.00" x2="37.95" y2="213.00"/>
<line x1="37.35" y1="195.87" x2="37.70" y2="195.87"/>
<line x1="37.35" y1="178.74" x2="37.70" y2="178.74"/>
<line x1="37.35" y1="161.61" x2="37.70" y2="161.61"/>
<line x1="37.35" y1="144.48" x2="37.70" y2="144.48"/>
<line x1="37.35" y1="127.35" x2="37.95" y2="127.35"/>
<line x1="37.35" y1="110.22" x2="37.70" y2="110.22"/>
<line x1="37.35" y1="93.09" x2="37.70" y2="93.09"/>
<line x1="37.35" y1="75.96" x2="37.70" y2="75.96"/>
<line x1="37.35" y1="58.83" x2="37.70" y2="58.83"/>
</g>
<g stroke="#000" stroke-width="1.8" stroke-linecap="butt">
<line x1="26.1" y1="384.55" x2="561.6" y2="384.55"/>
<line x1="36.6" y1="52.6" x2="36.6" y2="385.40000000000003"/>
</g>
<g id="title" font-size="23.8" stroke="#000" stroke-width="0.3">
<text class="tc" transform="translate(44.90,21.9) scale(0.945,1)">T</text>
<text class="tc" transform="translate(88.50,21.9) scale(1.03,1)">1,</text>
<text class="tc" transform="translate(112.30,21.9) scale(0.885,1)">Φ</text>
<text class="tc" transform="translate(157.70,21.9) scale(1.03,1)">1,</text>
<text class="tc" transform="translate(181.40,21.9) scale(1.03,1)">a</text>
<text class="tc" transform="translate(221.60,21.9) scale(1.03,1)">1,</text>
<text class="tc" transform="translate(251.90,21.9) scale(1.03,1)" font-style="italic">η</text>
<text class="tc" transform="translate(292.80,21.9) scale(1.022,1)">1(Red),</text>
<text class="tc" transform="translate(375.10,21.9) scale(1.02,1)">2(Blue),</text>
<text class="tc" transform="translate(462.00,21.9) scale(1.015,1)">3(Green)</text>
<rect x="68.10" y="12.2" width="13.00" height="2.1"/>
<rect x="68.10" y="17.5" width="13.00" height="2.1"/>
<rect x="136.20" y="12.2" width="13.80" height="2.1"/>
<rect x="136.20" y="17.5" width="13.80" height="2.1"/>
<rect x="201.00" y="12.2" width="13.10" height="2.1"/>
<rect x="201.00" y="17.5" width="13.10" height="2.1"/>
<rect x="271.90" y="12.2" width="13.30" height="2.1"/>
<rect x="271.90" y="17.5" width="13.30" height="2.1"/>
</g>
<text id="ylab" transform="translate(24.6,45.8) scale(0.94,1)" font-size="20.3" font-style="italic" stroke="#000" stroke-width="0.35">L</text>
<g stroke="#000" stroke-width="1.3" fill="none">
<line x1="38.2" y1="36.8" x2="47.9" y2="36.8"/>
<line x1="42.9" y1="27.6" x2="42.9" y2="36.8"/>
</g>
<text id="xlab" transform="translate(565.8,391.0) scale(1.05,1)" font-size="19" stroke="#000" stroke-width="0.25">W</text>
<g font-size="19" text-anchor="middle" stroke="#000" stroke-width="0.25">
<text transform="translate(165.1,404.8) scale(1.055,1)">50</text>
<text transform="translate(293.9,404.8) scale(1.055,1)">100</text>
<text transform="translate(422.6,404.8) scale(1.055,1)">150</text>
<text transform="translate(551.1,404.8) scale(1.055,1)">200</text>
</g>
<g font-size="19" text-anchor="end" stroke="#000" stroke-width="0.25">
<text transform="translate(34.5,135.5) scale(1.055,1)">0.15</text>
<text transform="translate(34.5,221.1) scale(1.055,1)">0.10</text>
<text transform="translate(34.5,306.5) scale(1.055,1)">0.05</text>
</g>
</svg>
</body></html>
